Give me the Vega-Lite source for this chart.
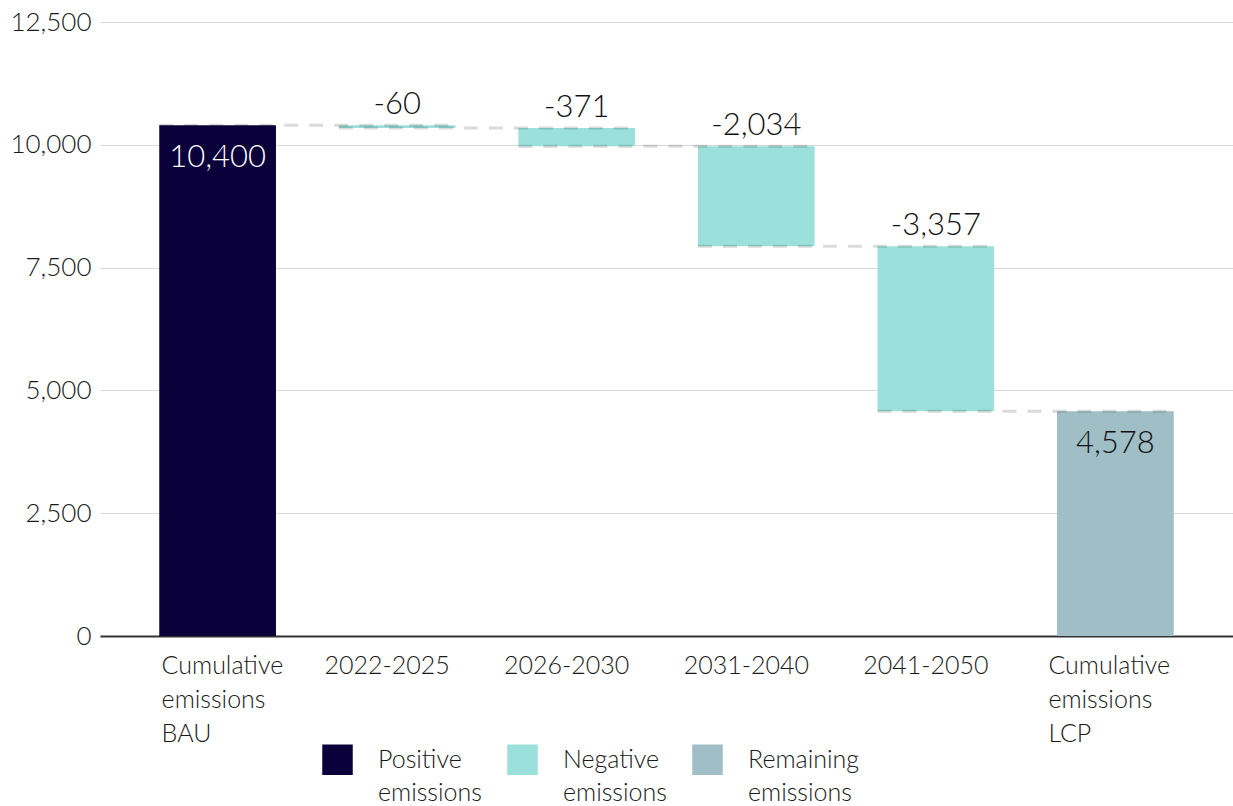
{
  "$schema": "https://vega.github.io/schema/vega-lite/v6.json",
  "autosize": "none",
  "width": 1133,
  "height": 614,
  "padding": {"left": 100, "top": 22, "right": 0, "bottom": 170},
  "background": "white",
  "config": {
    "view": {"stroke": null},
    "font": "Lato",
    "style": {"guide-label": {"lineHeight": 33}},
    "axisY": {
      "title": null,
      "labelFont": "Lato",
      "labelFontWeight": 300,
      "labelFontSize": 26,
      "labelColor": "#1a1a1a",
      "labelPadding": 9,
      "ticks": false,
      "domain": false,
      "gridColor": "#d9d9d9",
      "gridWidth": 1
    }
  },
  "data": {
    "values": [
      {"cat": "Cumulative emissions BAU", "next": "2022-2025", "start": 0, "end": 10400, "type": "Positive emissions", "label": "10,400", "kind": "total"},
      {"cat": "2022-2025", "next": "2026-2030", "start": 10400, "end": 10340, "type": "Negative emissions", "label": "-60", "kind": "change"},
      {"cat": "2026-2030", "next": "2031-2040", "start": 10340, "end": 9969, "type": "Negative emissions", "label": "-371", "kind": "change"},
      {"cat": "2031-2040", "next": "2041-2050", "start": 9969, "end": 7935, "type": "Negative emissions", "label": "-2,034", "kind": "change"},
      {"cat": "2041-2050", "next": "Cumulative emissions LCP", "start": 7935, "end": 4578, "type": "Negative emissions", "label": "-3,357", "kind": "change"},
      {"cat": "Cumulative emissions LCP", "next": null, "start": 0, "end": 4578, "type": "Remaining emissions", "label": "4,578", "kind": "total"}
    ]
  },
  "encoding": {
    "x": {
      "field": "cat",
      "type": "nominal",
      "sort": ["Cumulative emissions BAU", "2022-2025", "2026-2030", "2031-2040", "2041-2050", "Cumulative emissions LCP"],
      "scale": {"paddingInner": 0.35, "paddingOuter": 0.33},
      "axis": {
        "title": null,
        "labelAngle": 0,
        "labelFont": "Lato",
        "labelFontWeight": 300,
        "labelFontSize": 25,
        "labelColor": "#1a1a1a",
        "labelLineHeight": 34,
        "labelBaseline": "top",
        "labelPadding": 17,
        "labelExpr": "indexof(datum.value, 'Cumulative') >= 0 ? split(datum.value, ' ') : datum.value",
        "labelAlign": {"condition": {"test": "indexof(datum.value, 'Cumulative') >= 0", "value": "left"}, "value": "center"},
        "labelOffset": {"condition": [{"test": "datum.value === 'Cumulative emissions BAU'", "value": -56}, {"test": "datum.value === 'Cumulative emissions LCP'", "value": -67}], "value": -10},
        "ticks": false,
        "domainColor": "#333333",
        "domainWidth": 2,
        "labelLimit": 300
      }
    }
  },
  "layer": [
    {
      "mark": {"type": "bar"},
      "encoding": {
        "y": {
          "field": "start",
          "type": "quantitative",
          "scale": {"domain": [0, 12500], "nice": false},
          "axis": {"title": null, "values": [0, 2500, 5000, 7500, 10000, 12500], "format": ",.0f"}
        },
        "y2": {"field": "end"},
        "color": {
          "field": "type",
          "type": "nominal",
          "scale": {
            "domain": ["Positive emissions", "Negative emissions", "Remaining emissions"],
            "range": ["#0a003a", "#9be0da", "#9fbec5"]
          },
          "legend": {
            "title": null,
            "orient": "none",
            "legendX": 222,
            "legendY": 722,
            "direction": "horizontal",
            "symbolType": "square",
            "symbolSize": 930,
            "symbolStrokeWidth": 0,
            "symbolOpacity": 1,
            "labelFontSize": 25,
            "labelFont": "Lato",
            "labelFontWeight": 300,
            "labelColor": "#1a1a1a",
            "labelBaseline": "middle",
            "labelOffset": 25,
            "labelExpr": "split(datum.label, ' ')",
            "columnPadding": 17,
            "gridAlign": "all",
            "padding": 0,
            "labelLimit": 200
          }
        }
      }
    },
    {
      "transform": [{"filter": "datum.next != null"}],
      "mark": {"type": "rule", "color": "#000000", "opacity": 0.14, "strokeWidth": 3, "strokeDash": [14, 11]},
      "encoding": {
        "x": {"field": "cat", "type": "nominal", "bandPosition": 0, "sort": ["Cumulative emissions BAU", "2022-2025", "2026-2030", "2031-2040", "2041-2050", "Cumulative emissions LCP"]},
        "x2": {"field": "next", "bandPosition": 1},
        "y": {"field": "end", "type": "quantitative", "axis": {"title": null, "values": [0, 2500, 5000, 7500, 10000, 12500], "format": ",.0f"}}
      }
    },
    {
      "transform": [{"filter": "datum.kind === 'change'"}],
      "mark": {"type": "text", "baseline": "alphabetic", "dy": -11, "fontSize": 31, "font": "Lato", "fontWeight": 300, "color": "#111111"},
      "encoding": {
        "y": {"field": "start", "type": "quantitative", "axis": {"title": null, "values": [0, 2500, 5000, 7500, 10000, 12500], "format": ",.0f"}},
        "text": {"field": "label"}
      }
    },
    {
      "transform": [{"filter": "datum.kind === 'total'"}],
      "mark": {"type": "text", "baseline": "top", "dy": 18, "fontSize": 31, "font": "Lato", "fontWeight": 300},
      "encoding": {
        "y": {"field": "end", "type": "quantitative", "axis": {"title": null, "values": [0, 2500, 5000, 7500, 10000, 12500], "format": ",.0f"}},
        "text": {"field": "label"},
        "color": {"condition": {"test": "datum.type === 'Positive emissions'", "value": "#ffffff"}, "value": "#111111"}
      }
    }
  ]
}
